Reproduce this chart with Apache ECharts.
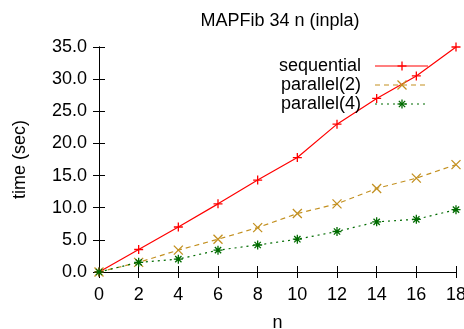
<!DOCTYPE html>
<html>
<head>
<meta charset="utf-8">
<script src="https://cdn.jsdelivr.net/npm/echarts@6/dist/echarts.min.js"></script>
<style>
  html, body { margin: 0; padding: 0; background: #fff; }
  #chart { width: 464px; height: 329px; }
</style>
</head>
<body>
<div id="chart"></div>
<script>
// Run times for MAPFib 34 over n
const nValues = [0, 2, 4, 6, 8, 10, 12, 14, 16, 18];
const sequential = [0, 3.5, 7.0, 10.6, 14.3, 17.8, 23.0, 27.0, 30.5, 35.0];
const parallel2 = [0, 1.5, 3.4, 5.1, 6.9, 9.1, 10.6, 13.0, 14.6, 16.7];
const parallel4 = [0, 1.5, 2.0, 3.4, 4.2, 5.1, 6.3, 7.8, 8.2, 9.7];
const seriesNames = ['sequential', 'parallel(2)', 'parallel(4)'];

const FONT = '"Liberation Sans", Arial, Helvetica, sans-serif';

// Marker strokes on a 10x10 box
const PLUS = [[0, 5, 10, 5], [5, 0, 5, 10]];
const CROSS = [[0, 0, 10, 10], [10, 0, 0, 10]];
const STAR = PLUS.concat([[1.5, 1.5, 8.5, 8.5], [8.5, 1.5, 1.5, 8.5]]);

function toPath(segs) {
  return 'path://' + segs.map(s => 'M' + s[0] + ',' + s[1] + 'L' + s[2] + ',' + s[3]).join('');
}

const styles = [
  { color: '#ff0000', dash: 'solid', segs: PLUS },
  { color: '#c39020', dash: [5, 4], segs: CROSS },
  { color: '#006b00', dash: [2, 4], segs: STAR }
];

function pairs(ys) { return nValues.map((x, i) => [x, ys[i]]); }

function makeSeries(idx, ys) {
  const s = styles[idx];
  return {
    name: seriesNames[idx],
    type: 'line',
    data: pairs(ys),
    symbol: toPath(s.segs),
    symbolSize: 9,
    showAllSymbol: true,
    lineStyle: { color: s.color, width: 1.2, type: s.dash },
    itemStyle: { color: s.color, borderColor: s.color, borderWidth: 1.3 },
    emphasis: { disabled: true },
    animation: false,
    z: 3
  };
}

// Key in the upper right: label, line sample and marker for each series
function keyElements() {
  const els = [];
  const textRight = 361, lineStart = 375, lineEnd = 428, rowTop = 66, rowStep = 19, size = 9;
  seriesNames.forEach((name, i) => {
    const s = styles[i];
    const y = rowTop + i * rowStep;
    els.push({
      type: 'text',
      x: textRight, y: y,
      style: {
        text: name, fill: '#000', font: '18px ' + FONT,
        textAlign: 'right', textVerticalAlign: 'middle'
      },
      z: 10
    });
    els.push({
      type: 'line',
      shape: { x1: lineStart, y1: y, x2: lineEnd, y2: y },
      style: { stroke: s.color, lineWidth: 1.2, lineDash: s.dash === 'solid' ? null : s.dash },
      z: 10
    });
    const ox = (lineStart + lineEnd) / 2 + 0.5 - size / 2;
    const oy = y - size / 2;
    s.segs.forEach(g => {
      els.push({
        type: 'line',
        shape: {
          x1: ox + g[0] * size / 10, y1: oy + g[1] * size / 10,
          x2: ox + g[2] * size / 10, y2: oy + g[3] * size / 10
        },
        style: { stroke: s.color, lineWidth: 1.3 },
        z: 11
      });
    });
  });
  return els;
}

const chart = echarts.init(document.getElementById('chart'), null, { renderer: 'canvas' });

const tickStyle = { show: true, inside: true, length: 6, lineStyle: { color: '#000', width: 1 } };

chart.setOption({
  backgroundColor: '#fff',
  animation: false,
  title: {
    text: 'MAPFib 34 n (inpla)',
    left: 275,
    top: 7,
    textAlign: 'center',
    textStyle: { fontFamily: FONT, fontSize: 18, fontWeight: 'normal', color: '#000' }
  },
  grid: { left: 99, right: 8, top: 47, bottom: 57, containLabel: false, outerBoundsMode: 'none' },
  xAxis: [{
    type: 'value',
    min: 0, max: 18, interval: 2,
    name: 'n',
    nameLocation: 'middle',
    nameGap: 42,
    nameTextStyle: { fontFamily: FONT, fontSize: 18, color: '#000' },
    axisLine: { show: true, lineStyle: { color: '#000', width: 1 } },
    axisTick: tickStyle,
    axisLabel: { fontFamily: FONT, fontSize: 18, color: '#000', margin: 14 },
    splitLine: { show: false }
  }, {
    type: 'value',
    position: 'top',
    min: 0, max: 18, interval: 2,
    axisLine: { show: true, lineStyle: { color: '#000', width: 1 } },
    axisTick: tickStyle,
    axisLabel: { show: false },
    splitLine: { show: false }
  }],
  yAxis: [{
    type: 'value',
    min: 0, max: 35, interval: 5,
    name: 'time (sec)',
    nameLocation: 'middle',
    nameGap: 70,
    nameTextStyle: { fontFamily: FONT, fontSize: 18, color: '#000' },
    axisLine: { show: true, lineStyle: { color: '#000', width: 1 } },
    axisTick: tickStyle,
    axisLabel: {
      fontFamily: FONT, fontSize: 18, color: '#000', margin: 12,
      formatter: v => v.toFixed(1)
    },
    splitLine: { show: false }
  }, {
    type: 'value',
    position: 'right',
    min: 0, max: 35, interval: 5,
    axisLine: { show: true, lineStyle: { color: '#000', width: 1 } },
    axisTick: tickStyle,
    axisLabel: { show: false },
    splitLine: { show: false }
  }],
  graphic: keyElements(),
  series: [
    makeSeries(0, sequential),
    makeSeries(1, parallel2),
    makeSeries(2, parallel4)
  ]
});
</script>
</body>
</html>
